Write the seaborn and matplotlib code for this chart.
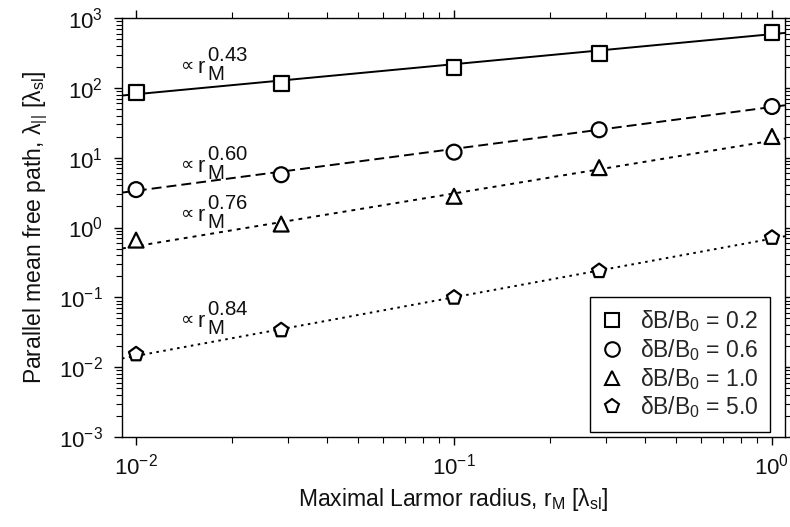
import numpy as np
import pandas as pd
import matplotlib
matplotlib.use("Agg")
import matplotlib.pyplot as plt
import seaborn as sns
from matplotlib.lines import Line2D
from matplotlib.ticker import LogLocator, NullFormatter

# values
r_M = [0.01, 0.0286, 0.1, 0.286, 1.0]
lam_02 = [85.8, 116.6, 195.0, 313.0, 617.0]
lam_06 = [3.49, 5.7, 12.0, 25.1, 54.0]
lam_10 = [0.66, 1.12, 2.80, 7.2, 20.1]
lam_50 = [0.0153, 0.0338, 0.099, 0.238, 0.713]
series = ["0.2", "0.6", "1.0", "5.0"]
legend_labels = ["δB/B$_0$ = 0.2", "δB/B$_0$ = 0.6", "δB/B$_0$ = 1.0", "δB/B$_0$ = 5.0"]

# power-law fit lines, end values at the axis limits
fit_x = [0.00903, 1.099]
fit_02 = [77.6, 612.0]
fit_06 = [3.16, 56.3]
fit_10 = [0.50, 18.8]
fit_50 = [0.0133, 0.750]
exponents = ["0.43", "0.60", "0.76", "0.84"]
exp_label_x = 0.01393
exp_label_y = [165.6, 6.17, 1.23, 0.0381]

sns.set_theme(style="ticks")
plt.rcParams["font.family"] = ["Liberation Sans", "DejaVu Sans"]
plt.rcParams["mathtext.fontset"] = "custom"
plt.rcParams["mathtext.rm"] = "Liberation Sans"
plt.rcParams["mathtext.it"] = "Liberation Sans:italic"
plt.rcParams["mathtext.bf"] = "Liberation Sans:bold"

pts = pd.concat([
    pd.DataFrame({"rM": r_M, "lam": v, "series": s})
    for v, s in zip([lam_02, lam_06, lam_10, lam_50], series)
])
fits = pd.concat([
    pd.DataFrame({"rM": fit_x, "lam": v, "series": s})
    for v, s in zip([fit_02, fit_06, fit_10, fit_50], series)
])

markers = {"0.2": "s", "0.6": "o", "1.0": "^", "5.0": "p"}
dashes = {"0.2": "", "0.6": (5.1, 2.6), "1.0": (2.0, 2.6), "5.0": (1.3, 2.3)}

fig = plt.figure(figsize=(7.9, 5.27), dpi=100)
ax = fig.add_axes([0.1544, 0.1708, 0.8393, 0.7950])

sns.lineplot(data=fits, x="rM", y="lam", style="series", dashes=dashes,
             color="black", linewidth=1.4, legend=False, estimator=None,
             sort=False, ax=ax)
sns.scatterplot(data=pts, x="rM", y="lam", style="series", markers=markers,
                color="white", edgecolor="black", linewidth=1.6, s=115,
                legend=False, zorder=3, ax=ax)

ax.set_xscale("log")
ax.set_yscale("log")
ax.set_xlim(fit_x[0], fit_x[1])
ax.set_ylim(1e-3, 1e3)

ax.xaxis.set_major_locator(LogLocator(base=10, numticks=20))
ax.yaxis.set_major_locator(LogLocator(base=10, numticks=20))
ax.xaxis.set_minor_locator(LogLocator(base=10, subs=np.arange(2, 10), numticks=20))
ax.yaxis.set_minor_locator(LogLocator(base=10, subs=np.arange(2, 10), numticks=20))
ax.xaxis.set_minor_formatter(NullFormatter())
ax.yaxis.set_minor_formatter(NullFormatter())

ax.tick_params(which="both", direction="out", top=True, right=True, colors="black",
               labelsize=16, labelcolor="#111111")
ax.tick_params(which="major", length=6, width=1.0)
ax.tick_params(which="minor", length=4, width=0.8)
ax.tick_params(axis="x", pad=6)
ax.tick_params(axis="y", pad=8)
for sp in ax.spines.values():
    sp.set_linewidth(1.0)
    sp.set_color("black")

ax.set_xlabel("Maximal Larmor radius, r$_\\mathrm{M}$ [λ$_\\mathrm{sl}$]", fontsize=16.5,
              color="#111111", labelpad=5)
ax.set_ylabel("Parallel mean free path, λ$_{||}$ [λ$_\\mathrm{sl}$]", fontsize=16.5,
              color="#111111", labelpad=6)

# exponent labels: small ∝, plain r, then a stacked sub/superscript
for e, yv in zip(exponents, exp_label_y):
    ax.annotate("∝", xy=(exp_label_x, yv), xytext=(-1, 2), textcoords="offset pixels",
                fontsize=13.5, family="DejaVu Sans", va="baseline", ha="left", color="#111111")
    ax.annotate("r", xy=(exp_label_x, yv), xytext=(16, 0), textcoords="offset pixels",
                fontsize=15.5, va="baseline", ha="left", color="#111111")
    ax.annotate("${}_{\\mathrm{M}}^{%s}$" % e, xy=(exp_label_x, yv), xytext=(25, 0),
                textcoords="offset pixels", fontsize=21, va="baseline", ha="left",
                color="#111111")

handles = [Line2D([], [], linestyle="none", marker=markers[s], markersize=10.5,
                  markerfacecolor="white", markeredgecolor="black", markeredgewidth=1.5)
           for s in series]
leg = ax.legend(handles, legend_labels, loc="upper right", bbox_to_anchor=(0.977, 0.334),
                borderaxespad=0, frameon=True, fancybox=False, edgecolor="black",
                framealpha=1, fontsize=16.5, handlelength=1.0, handletextpad=0.7,
                labelspacing=0.12, borderpad=0.5)
leg.get_frame().set_linewidth(1.0)

fig.savefig("out.png", dpi=100)
